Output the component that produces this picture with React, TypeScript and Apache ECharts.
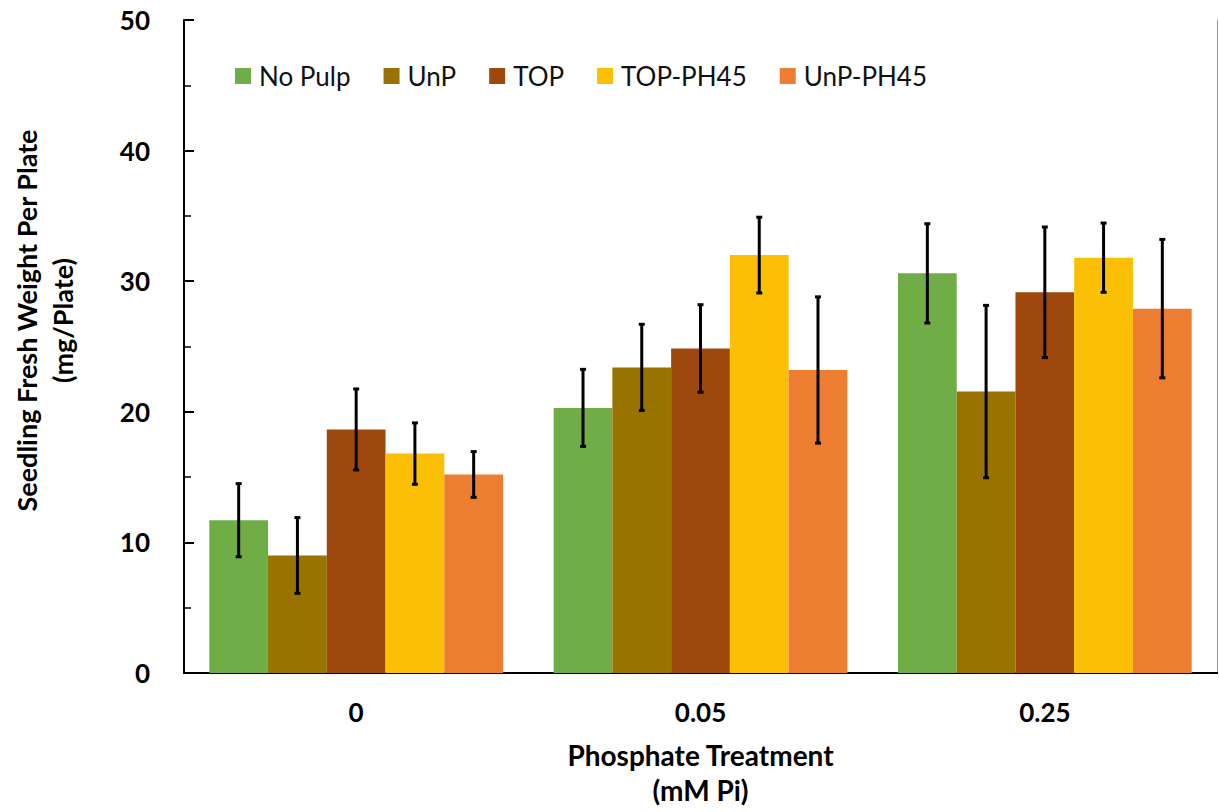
import React, { useEffect, useRef } from "react";
import * as echarts from "echarts";

const categories = ["0", "0.05", "0.25"];
const seriesNames = ["No Pulp", "UnP", "TOP", "TOP-PH45", "UnP-PH45"];
const colors = ["#70AD47", "#997300", "#9E480E", "#FBBF05", "#ED7D31"];
const means = [
  [11.7, 20.3, 30.6],
  [9.0, 23.4, 21.55],
  [18.65, 24.85, 29.15],
  [16.8, 32.0, 31.8],
  [15.2, 23.2, 27.9],
];
const errors = [
  [2.8, 2.95, 3.8],
  [2.9, 3.3, 6.6],
  [3.1, 3.35, 5.0],
  [2.35, 2.9, 2.65],
  [1.75, 5.6, 5.3],
];

const FONT = "Lato";
const CAT_GAP = 0.147;

export default function App() {
  const ref = useRef<HTMLDivElement>(null);
  useEffect(() => {
    if (!ref.current) return;
    const chart = echarts.init(ref.current, null, { renderer: "svg" });
    const nSeries = seriesNames.length;

    const barSeries = seriesNames.map((name, i) => ({
      name,
      type: "bar",
      data: means[i],
      barGap: "0%",
      barCategoryGap: CAT_GAP * 100 + "%",
      itemStyle: { color: colors[i] },
      xAxisIndex: 0,
      yAxisIndex: 0,
    }));

    const errSeries = seriesNames.map((name, i) => ({
      name: name + " error",
      type: "custom",
      xAxisIndex: 0,
      yAxisIndex: 0,
      z: 10,
      data: means[i].map((m, c) => [c, m, errors[i][c]]),
      renderItem: (params: any, api: any) => {
        const c = api.value(0);
        const m = api.value(1);
        const e = api.value(2);
        const band = api.size([1, 0])[0];
        const groupW = band * (1 - CAT_GAP);
        const barW = groupW / nSeries;
        const center = api.coord([c, m]);
        const x = center[0] - groupW / 2 + (i + 0.5) * barW;
        const top = api.coord([c, m + e])[1];
        const bot = api.coord([c, m - e])[1];
        const cap = 3;
        const style = { stroke: "#000", lineWidth: 3 };
        return {
          type: "group",
          children: [
            { type: "line", shape: { x1: x, y1: top, x2: x, y2: bot }, style },
            { type: "line", shape: { x1: x - cap, y1: top, x2: x + cap, y2: top }, style },
            { type: "line", shape: { x1: x - cap, y1: bot, x2: x + cap, y2: bot }, style },
          ],
        };
      },
    }));

    chart.setOption({
      animation: false,
      backgroundColor: "#fff",
      textStyle: { fontFamily: FONT },
      grid: { left: 180, right: 2, top: 20, bottom: 129 },
      legend: {
        data: seriesNames,
        left: 230,
        top: 58,
        icon: "rect",
        itemWidth: 16,
        itemHeight: 16,
        itemGap: 33,
        textStyle: { fontFamily: FONT, fontSize: 26, color: "#111", padding: [0, 0, 0, 3] },
      },
      xAxis: [
        {
          type: "category",
          data: categories,
          position: "bottom",
          axisLine: { lineStyle: { color: "#000", width: 2 } },
          axisTick: { show: false },
          axisLabel: {
            fontFamily: FONT,
            fontSize: 26,
            fontWeight: "bold",
            color: "#000",
            margin: 26,
          },
          name: "Phosphate Treatment\n(mM Pi)",
          nameLocation: "middle",
          nameGap: 64,
          nameTextStyle: {
            fontFamily: FONT,
            fontSize: 28,
            fontWeight: "bold",
            color: "#000",
            lineHeight: 35,
          },
        },
        {
          type: "category",
          data: categories,
          position: "top",
          axisLine: { lineStyle: { color: "#000", width: 2 } },
          axisTick: { show: false },
          axisLabel: { show: false },
        },
      ],
      yAxis: [
        {
          type: "value",
          min: 0,
          max: 50,
          interval: 10,
          axisLine: { show: true, lineStyle: { color: "#000", width: 2 } },
          axisTick: { show: true, inside: true, length: 10, lineStyle: { color: "#000", width: 2 } },
          minorTick: { show: true, splitNumber: 2, length: 7, lineStyle: { color: "#000", width: 1.5 } },
          splitLine: { show: false },
          axisLabel: {
            fontFamily: FONT,
            fontSize: 26,
            fontWeight: "bold",
            color: "#000",
            margin: 34,
          },
          name: "Seedling Fresh Weight Per Plate\n(mg/Plate)",
          nameLocation: "middle",
          nameRotate: 90,
          nameGap: 104,
          nameTextStyle: {
            fontFamily: FONT,
            fontSize: 27,
            fontWeight: "bold",
            color: "#000",
            lineHeight: 36,
            padding: [0, 0, 0, 52],
          },
        },
        {
          type: "value",
          min: 0,
          max: 50,
          interval: 10,
          position: "right",
          axisLine: { show: true, lineStyle: { color: "#9a9a9a", width: 1 } },
          axisTick: { show: false },
          axisLabel: { show: false },
          splitLine: { show: false },
        },
      ],
      series: [...barSeries, ...errSeries],
    });
    return () => chart.dispose();
  }, []);
  return (
    <div
      ref={ref}
      style={{ position: "fixed", left: 0, top: 0, width: 1219, height: 812 }}
    />
  );
}
